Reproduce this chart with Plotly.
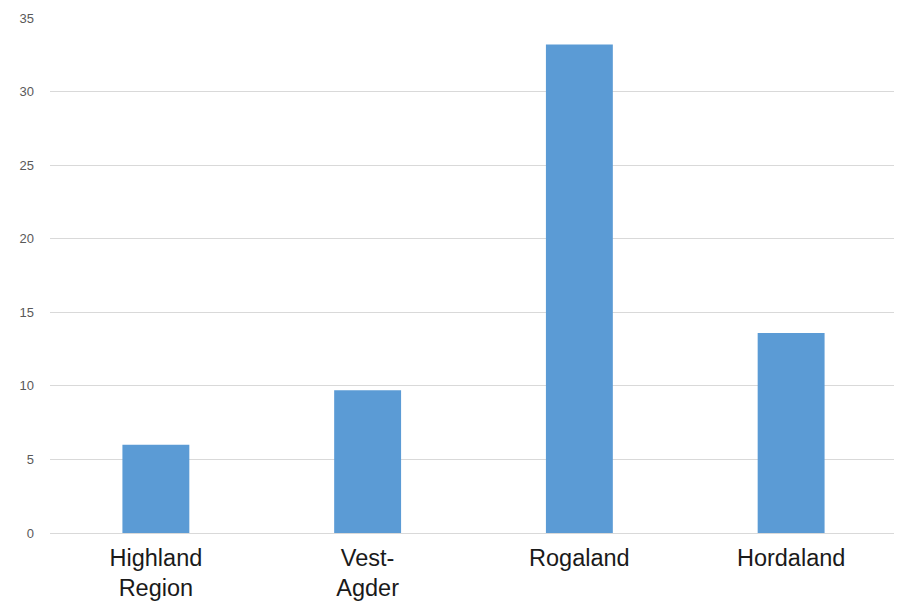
import plotly.graph_objects as go

categories = ["Highland<br>Region", "Vest-<br>Agder", "Rogaland", "Hordaland"]
values = [6.0, 9.7, 33.2, 13.6]
y_ticks = [0, 5, 10, 15, 20, 25, 30, 35]

fig = go.Figure(go.Bar(x=categories, y=values, marker_color="#5B9BD5", marker_line_width=0))

fig.update_layout(
    width=894, height=595,
    margin=dict(l=42, r=5, t=10, b=70),
    paper_bgcolor="white", plot_bgcolor="white",
    bargap=0.684,
    showlegend=False,
    font=dict(family="Liberation Sans, Arial, sans-serif"),
)
fig.update_xaxes(
    tickfont=dict(size=23.5, color="#1a1a1a"),
    showgrid=False, showline=False, ticks="",
    ticklabelstandoff=8, automargin=False,
)
fig.update_yaxes(
    range=[0, 35], tickvals=y_ticks,
    tickfont=dict(size=13, color="#595959"),
    showgrid=True, gridcolor="#D9D9D9", gridwidth=1,
    zeroline=True, zerolinecolor="#D9D9D9", zerolinewidth=1,
    ticks="", ticklabelstandoff=15, automargin=False,
)
fig.write_html("out.html")
